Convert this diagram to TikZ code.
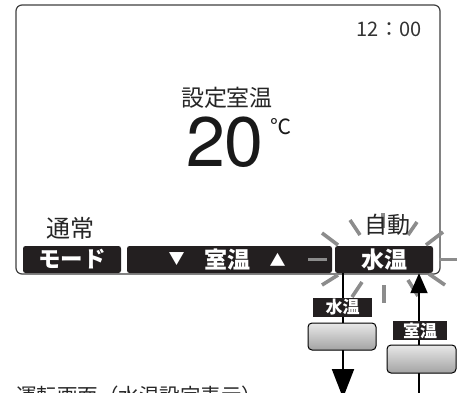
\documentclass[tikz,border=0pt]{standalone}
\usepackage{fontspec}
\setmainfont{Noto Sans CJK JP}
\newfontfamily\heros{TeX Gyre Heros}
\usetikzlibrary{arrows.meta,calc}
\definecolor{btnblack}{HTML}{231F20}
\definecolor{raygray}{HTML}{8C8C8C}
\definecolor{framegray}{HTML}{404040}
\tikzset{
  screenframe/.style={draw=framegray, line width=1.2pt, rounded corners=6pt, minimum width=424pt, minimum height=269pt, inner sep=0pt},
  softkey/.style={fill=btnblack, rounded corners=2.5pt, minimum height=27pt, inner sep=0pt, text=white, font=\fontsize{22.5}{22.5}\selectfont\bfseries},
  scrtext/.style={inner sep=0pt, text=black!85, font=\fontsize{23}{23}\selectfont},
  ray/.style={draw=raygray, line width=3.6pt},
  tag/.style={fill=btnblack, text=white, inner sep=0pt, font=\fontsize{17}{17}\selectfont\bfseries},
  hwkey/.style={draw=black, line width=1pt, rounded corners=4pt, top color=gray!18, bottom color=gray!72, inner sep=0pt},
  flow/.style={draw=black, line width=2pt},
}
\begin{document}
\begin{tikzpicture}[x=1pt,y=-1pt]
\useasboundingbox[fill=white] (0,0) rectangle (467,392);
% screen frame
\node[screenframe] (screen) at (228,139.5) {};
% texts on the screen
\node[scrtext, text=black!80, font=\fontsize{20}{20}\selectfont] (clock) at (389,29) {12：00};
\node[scrtext] (setlabel) at (227,98) {設定室温};
\node[inner sep=0pt, text=black!90, font=\fontsize{70}{70}\selectfont\heros] (temp) at (225,142) {20};
\node[anchor=west, inner sep=0pt, text=black!90, font=\fontsize{21}{21}\selectfont] (deg) at (270,127) {℃};
\node[scrtext, font=\fontsize{24}{24}\selectfont] (normal) at (70,228) {通常};
% soft keys
\node[softkey, minimum width=98pt] (mode) at (72,259.5) {モード};
\node[softkey, minimum width=205pt] (room) at (229.5,259.5) {};
\node[inner sep=0pt, text=white, font=\fontsize{16}{16}\selectfont] (dn) at (176.5,259.5) {▼};
\node[inner sep=0pt, text=white, font=\fontsize{23}{23}\selectfont\bfseries] (roomtxt) at (227.5,259.5) {室温};
\node[inner sep=0pt, text=white, font=\fontsize{16}{16}\selectfont] (up) at (277.5,259.5) {▲};
\node[softkey, minimum width=98pt, font=\fontsize{23}{23}\selectfont\bfseries] (water) at (384,259.5) {水温};
\draw[white, line width=1.2pt] (333.5,247) -- (333.5,273);
% rays
\draw[ray] (383,213) -- (383,228);
\draw[ray] (350,220) -- (360,235);
\draw[ray] (417,222) -- (408,235);
\draw[ray] (322,233) -- (338,245);
\draw[ray] (443,232) -- (426,245);
\draw[ray] (308,259.5) -- (327,259.5);
\draw[ray] (439,259.5) -- (457,259.5);
\draw[ray] (322,285) -- (338,275);
\draw[ray] (445,285) -- (429,274);
\draw[ray] (352,297) -- (362,282);
\draw[ray] (384,285) -- (384,303);
\draw[ray] (408,280) -- (418,296);
\node[scrtext] (auto) at (387,225) {自動};
% flow arrows and hardware keys
\coordinate (dnend) at (343,398);
\coordinate (upstart) at (419,400);
\draw[flow, -{Triangle[width=22pt,length=29pt]}] (water.south -| dnend) -- (dnend);
\draw[flow, -{Triangle[width=17pt,length=20pt]}] (upstart) -- (water.south -| upstart);
\node[tag, minimum width=59pt, minimum height=19pt] (wtag) at (342.5,307.5) {水温};
\node[hwkey, minimum width=68pt, minimum height=27pt] (wkey) at (342,336.5) {};
\node[tag, minimum width=54pt, minimum height=19pt] (rtag) at (420,330.5) {室温};
\node[hwkey, minimum width=69pt, minimum height=28pt] (rkey) at (421.5,359) {};
% caption (cut off at the bottom)
\node[anchor=north west, inner sep=0pt, text=black!85, font=\fontsize{20.5}{20.5}\selectfont] (caption) at (16,386) {運転画面（水温設定表示）};
\end{tikzpicture}
\end{document}
